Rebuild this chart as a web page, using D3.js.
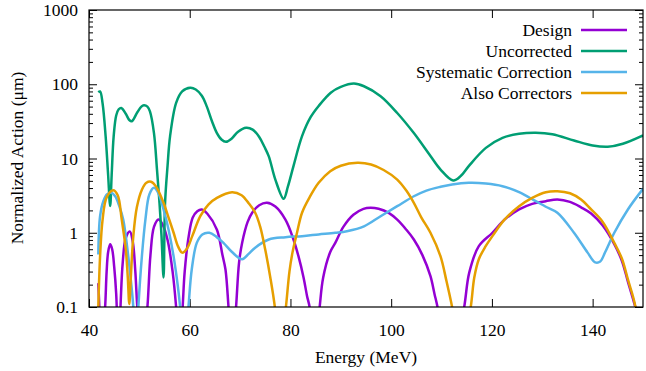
<!DOCTYPE html>
<html>
<head>
<meta charset="utf-8">
<title>Normalized Action vs Energy</title>
<script src="https://d3js.org/d3.v7.min.js"></script>
<style>
  body { margin: 0; background: #fff; }
  svg text { font-family: "Liberation Serif", "Times New Roman", serif; font-size: 17.5px; fill: #000; }
  .axis path.domain { display: none; }
  .axis line { stroke: #000; stroke-width: 1; }
  .line { fill: none; stroke-width: 2.5px; stroke-linejoin: round; }
</style>
</head>
<body>
<script>
// ---- data ----
var xTicks = [40, 60, 80, 100, 120, 140];
var yTicks = [0.1, 1, 10, 100, 1000];
var yTickLabels = ["0.1", "1", "10", "100", "1000"];
var seriesNames = ["Design", "Uncorrected", "Systematic Correction", "Also Correctors"];

// [energy MeV, action um]; points below 0.1 mark the zeros (clipped)
var design = [
  [41.85,0.21],[42.05,0.1],[42.4,0.02],[42.9,0.06],[43.2,0.1],[43.5,0.3],[43.8,0.55],[44.2,0.7],
  [44.6,0.6],[45.0,0.35],[45.4,0.15],[45.9,0.02],[46.3,0.12],[46.7,0.4],[47.3,0.85],[48.1,1.04],
  [48.7,0.75],[49.2,0.3],[49.6,0.1],[50.6,0.02],[51.6,0.1],[52.2,0.5],[52.9,1.2],[53.8,1.51],
  [54.6,1.3],[55.6,0.8],[56.6,0.3],[57.3,0.1],[58.0,0.02],[58.6,0.1],[59.0,0.3],[59.8,0.9],
  [60.6,1.6],[61.5,1.95],[62.4,2.06],[63.5,1.8],[65.4,1.1],[66.5,0.5],[67.1,0.32],[67.7,0.1],
  [68.4,0.02],[69.2,0.1],[69.8,0.4],[70.4,0.73],[71.5,1.4],[72.4,1.86],[73.8,2.35],[75.35,2.53],
  [77.0,2.25],[79.0,1.5],[80.5,0.85],[81.6,0.48],[82.6,0.25],[83.3,0.14],[83.8,0.1],[84.8,0.02],
  [85.8,0.1],[86.5,0.25],[87.9,0.55],[88.9,0.73],[90.5,1.2],[92.5,1.75],[94.5,2.1],[95.9,2.17],
  [97.5,2.1],[99.5,1.85],[101.2,1.5],[103,1.1],[104.5,0.81],[106.2,0.5],[107.8,0.26],[108.6,0.15],
  [109.2,0.1],[111.8,0.01],[114.5,0.1],[115.5,0.29],[117.4,0.66],[120.1,1.0],[122.5,1.5],[125.4,2.06],
  [128,2.45],[130.7,2.66],[133,2.8],[135.5,2.6],[137.7,2.2],[139.7,1.82],[142,1.25],[144.3,0.7],
  [145.8,0.42],[147,0.22],[148.3,0.11],[148.8,0.08],[149.6,0.01]
];

var uncorrected = [
  [41.85,78],[42.2,80],[42.7,55],[43.3,20],[43.8,6],[44.2,2.3],[44.5,6],[44.9,20],[45.4,38],
  [45.9,46],[46.4,48],[47.3,40],[48.0,33],[48.5,31.8],[49.6,42],[50.4,50],[50.9,52],[51.6,50],
  [52.1,43],[52.9,22],[53.5,7.1],[54.0,2.5],[54.4,0.9],[54.8,0.25],[55.1,2.5],[55.6,8],[56.1,20],
  [57.3,56],[58.5,80],[60.1,89.6],[61.2,85],[62.4,70],[63.4,50],[64.4,32],[65.4,22],[66.3,18],
  [67.2,16.8],[68.3,18.5],[69.6,23],[71.2,26],[72.5,24.5],[73.8,19.5],[74.8,14.5],[75.7,10.7],
  [77.0,5.2],[78.65,2.87],[79.5,4.2],
  [80.6,7.9],[82.3,20],[84.0,36],[85.6,51],[88.0,77],[90.0,92],[92.6,102],[94.6,94],[97.9,69],
  [101.2,41],[104.5,22],[107.8,10.8],[109.8,7.1],[112.3,5.06],[113.8,5.8],[115.4,7.9],[118.8,13.9],
  [122.1,19],[125.4,21.5],[128.7,22.2],[132,21.2],[136.3,17.5],[140,15],[143,14.4],[146,15.8],[150,20.5]
];

var systematic = [
  [41.85,0.51],[42.2,1.67],[42.85,2.66],[43.6,3.3],[44.4,3.45],[45.2,3.1],[46.0,2.3],[46.8,1.5],
  [47.8,0.48],[48.4,0.2],[48.8,0.1],[49.3,0.02],[49.8,0.1],[50.5,0.48],[51.2,1.5],[52.0,3.3],
  [52.9,4.03],[53.8,3.4],[54.8,2.06],[55.8,1.1],[56.8,0.48],[57.6,0.2],[58.1,0.1],[58.9,0.02],
  [59.75,0.1],[60.4,0.32],[61.4,0.73],[62.5,0.95],[63.9,1.0],[65.3,0.88],[66.7,0.73],[68.4,0.55],
  [70.4,0.44],[71.7,0.52],[73.0,0.63],[75.7,0.81],[79,0.87],[82.3,0.9],[85.6,0.95],[88.9,1.0],
  [91.2,1.05],[94.6,1.22],[97.9,1.67],[101.2,2.28],[104.5,3.1],[107,3.7],[109.8,4.16],[112.1,4.47],
  [115.4,4.7],[118.8,4.6],[122.1,4.24],[125.4,3.52],[128.7,2.66],[130.7,2.24],[133,1.86],[136.3,1.0],
  [139,0.54],[140.5,0.4],[141.5,0.41],[142.5,0.55],[144.3,1.0],[147,2.06],[150,3.9]
];

var alsoCorrectors = [
  [41.85,0.1],[42.2,0.48],[42.7,1.5],[43.5,3.0],[44.8,3.74],[45.7,3.2],[46.5,1.5],[47.3,0.6],
  [47.7,0.25],[48.0,0.11],[48.3,0.25],[48.8,0.9],[49.5,2.2],[50.5,3.8],[51.4,4.7],[52.3,4.86],
  [53.3,4.2],[54.8,2.53],[55.8,1.6],[56.8,1.0],[57.7,0.65],[58.5,0.54],[59.5,0.62],[60.5,0.9],
  [62.1,1.67],[63.7,2.4],[65.4,2.95],[68.4,3.52],[70.3,3.2],[71.7,2.5],[73.0,1.86],[74,1.2],
  [75,0.59],[76,0.25],[76.9,0.1],[77.9,0.02],[79.1,0.1],[79.8,0.3],[80.4,0.54],[81.3,1.0],
  [82.3,1.86],[83.8,3.0],[85.6,4.7],[87.9,6.75],[90,8.0],[93.3,8.75],[96,8.3],[98.5,7.0],
  [101.2,5.2],[103,3.7],[104.5,2.53],[106,1.6],[107.8,1.0],[109.8,0.48],[111,0.22],[112.1,0.1],
  [114,0.02],[115.8,0.1],[116.5,0.25],[117.4,0.44],[118.7,0.65],[120.1,0.9],[122.5,1.5],[125.4,2.28],
  [128,2.95],[130.7,3.52],[133,3.63],[135.5,3.4],[137.7,2.8],[139.7,2.06],[142,1.4],[144.3,0.73],
  [145.8,0.45],[147,0.235],[148.5,0.1],[149.3,0.02]
];

var allSeries = [design, uncorrected, systematic, alsoCorrectors];
var colors = ["#9400d3", "#009e73", "#56b4e9", "#e69f00"];

// ---- layout ----
var W = 646, H = 371;
var margin = { left: 89, right: 643, top: 10, bottom: 307 };

var svg = d3.select("body").append("svg")
    .attr("width", W)
    .attr("height", H);

var x = d3.scaleLinear().domain([40, 150]).range([margin.left, margin.right]);
var y = d3.scaleLog().domain([0.1, 1000]).range([margin.bottom, margin.top]);

// minor log ticks 2..9 in each decade
var minor = [];
yTicks.slice(0, -1).forEach(function (d) {
    for (var k = 2; k <= 9; k++) minor.push(d * k);
});

svg.append("defs").append("clipPath").attr("id", "plotclip")
  .append("rect")
    .attr("x", margin.left).attr("y", margin.top)
    .attr("width", margin.right - margin.left).attr("height", margin.bottom - margin.top);

// bottom axis with labels
svg.append("g")
    .attr("class", "axis")
    .attr("transform", "translate(0," + margin.bottom + ")")
    .call(d3.axisBottom(x).tickValues(xTicks).tickSize(-8).tickSizeOuter(0).tickPadding(17))
    .selectAll("text").attr("dy", "0.71em");

// top axis, ticks only
svg.append("g")
    .attr("class", "axis")
    .attr("transform", "translate(0," + margin.top + ")")
    .call(d3.axisTop(x).tickValues(xTicks).tickSize(-8).tickSizeOuter(0).tickFormat(""));

// left axis
svg.append("g")
    .attr("class", "axis")
    .attr("transform", "translate(" + margin.left + ",0)")
    .call(d3.axisLeft(y).tickValues(yTicks).tickSize(-8).tickSizeOuter(0).tickPadding(11)
        .tickFormat(function (d, i) { return yTickLabels[i]; }));

svg.append("g")
    .attr("class", "axis")
    .attr("transform", "translate(" + margin.left + ",0)")
    .call(d3.axisLeft(y).tickValues(minor).tickSize(-4).tickSizeOuter(0).tickFormat(""));

// right axis, ticks only
svg.append("g")
    .attr("class", "axis")
    .attr("transform", "translate(" + margin.right + ",0)")
    .call(d3.axisRight(y).tickValues(yTicks).tickSize(-8).tickSizeOuter(0).tickFormat(""));

svg.append("g")
    .attr("class", "axis")
    .attr("transform", "translate(" + margin.right + ",0)")
    .call(d3.axisRight(y).tickValues(minor).tickSize(-4).tickSizeOuter(0).tickFormat(""));

// curves
var line = d3.line()
    .x(function (d) { return x(d[0]); })
    .y(function (d) { return y(d[1]); })
    .curve(d3.curveCatmullRom.alpha(0.5));

var plot = svg.append("g").attr("clip-path", "url(#plotclip)");

allSeries.forEach(function (s, i) {
    plot.append("path")
        .datum(s)
        .attr("class", "line")
        .attr("stroke", colors[i])
        .attr("d", line);
});

// frame
svg.append("rect")
    .attr("x", margin.left).attr("y", margin.top)
    .attr("width", margin.right - margin.left).attr("height", margin.bottom - margin.top)
    .attr("fill", "none")
    .attr("stroke", "#000")
    .attr("stroke-width", 1.2);

// legend
var legend = svg.append("g");
seriesNames.forEach(function (name, i) {
    var ly = 30 + i * 21;
    legend.append("text")
        .attr("x", 572)
        .attr("y", ly)
        .attr("dy", "0.33em")
        .attr("text-anchor", "end")
        .text(name);
    legend.append("line")
        .attr("x1", 581).attr("x2", 627)
        .attr("y1", ly).attr("y2", ly)
        .attr("stroke", colors[i])
        .attr("stroke-width", 2.5);
});

// axis titles
svg.append("text")
    .attr("x", (margin.left + margin.right) / 2)
    .attr("y", 363)
    .attr("text-anchor", "middle")
    .text("Energy (MeV)");

svg.append("text")
    .attr("transform", "translate(23,158) rotate(-90)")
    .attr("text-anchor", "middle")
    .text("Normalized Action (μm)");
</script>
</body>
</html>
